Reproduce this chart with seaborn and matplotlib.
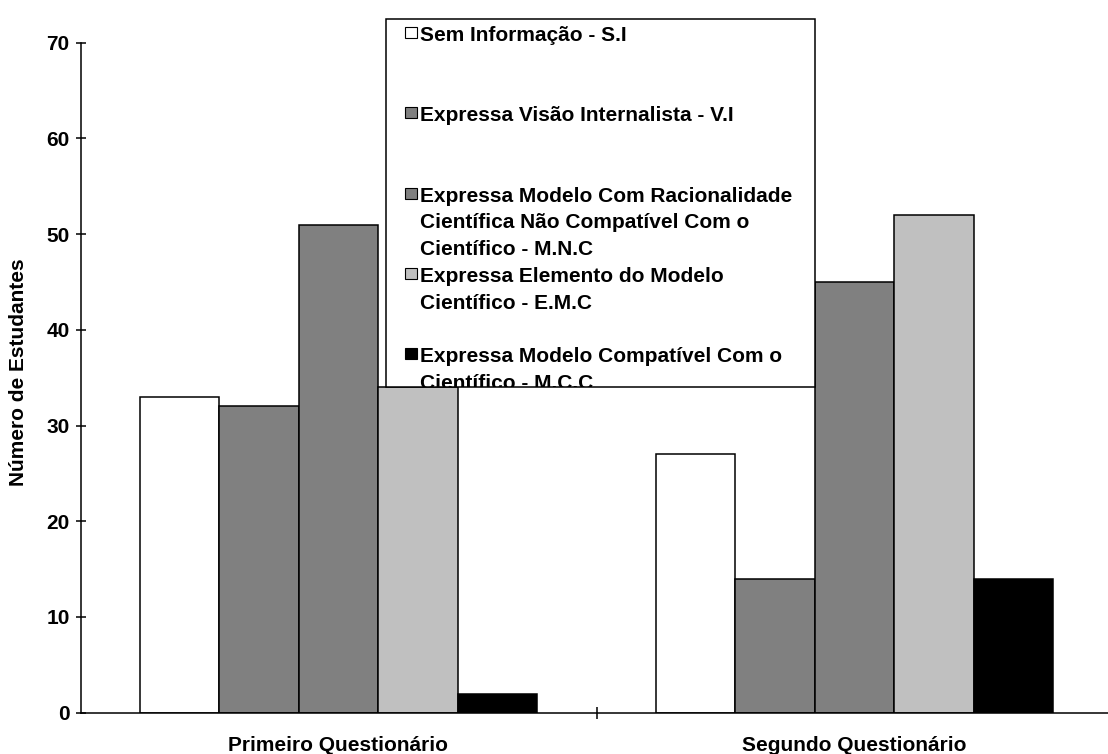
import matplotlib
matplotlib.use("Agg")
import matplotlib.pyplot as plt
from matplotlib.patches import Rectangle
import seaborn as sns
import pandas as pd

# ---- data ----
questionnaires = ["Primeiro Questionário", "Segundo Questionário"]
series_names = [
    "Sem Informação - S.I",
    "Expressa Visão Internalista - V.I",
    "Expressa Modelo Com Racionalidade Científica Não Compatível Com o Científico - M.N.C",
    "Expressa Elemento do Modelo Científico - E.M.C",
    "Expressa Modelo Compatível Com o Científico - M.C.C",
]
legend_lines = [
    ["Sem Informação - S.I"],
    ["Expressa Visão Internalista - V.I"],
    ["Expressa Modelo Com Racionalidade", "Científica Não Compatível Com o", "Científico - M.N.C"],
    ["Expressa Elemento do Modelo", "Científico - E.M.C"],
    ["Expressa Modelo Compatível Com o", "Científico - M.C.C"],
]
values_si = [33, 27]
values_vi = [32, 14]
values_mnc = [51, 45]
values_emc = [34, 52]
values_mcc = [2, 14]
series_colors = ["#FFFFFF", "#808080", "#808080", "#C0C0C0", "#000000"]
y_ticks = [0, 10, 20, 30, 40, 50, 60, 70]
y_label = "Número de Estudantes"

all_values = [values_si, values_vi, values_mnc, values_emc, values_mcc]
rows = []
for name, vals in zip(series_names, all_values):
    for q, v in zip(questionnaires, vals):
        rows.append({"Questionário": q, "Categoria": name, "Estudantes": v})
df = pd.DataFrame(rows)

# ---- style ----
sns.set_style("ticks")
plt.rcParams["font.family"] = ["Liberation Sans", "DejaVu Sans"]
plt.rcParams["font.weight"] = "bold"
for k in ["text.color", "axes.labelcolor", "xtick.color", "ytick.color", "axes.edgecolor"]:
    plt.rcParams[k] = "black"

W, H = 1108, 754
fig = plt.figure(figsize=(W / 100, H / 100), dpi=100)
ax = fig.add_axes([80.5 / W, 41.3 / H, 1032 / W, 670 / H])

sns.barplot(
    data=df, x="Questionário", y="Estudantes", hue="Categoria",
    order=questionnaires, hue_order=series_names,
    palette=series_colors, saturation=1, width=0.77, gap=0,
    edgecolor="black", linewidth=1.1, legend=False, ax=ax,
)

ax.set_xlim(-0.5, 1.5)
ax.set_ylim(0, 70)
ax.set_yticks(y_ticks)
ax.set_yticklabels([str(t) for t in y_ticks], fontsize=15, fontweight="bold", color="black")
ax.set_xticks([0, 1])
ax.set_xticklabels(questionnaires, fontsize=15, fontweight="bold", color="black")
ax.set_xticks([0.5], minor=True)
ax.tick_params(axis="x", which="major", bottom=True, length=0, pad=17)
ax.tick_params(axis="x", which="minor", bottom=True, length=9, width=1.1,
               direction="inout", color="black")
ax.tick_params(axis="y", which="major", left=True, length=7.5, width=1.1,
               direction="inout", color="black", pad=4)
ax.set_xlabel("")
ax.set_ylabel(y_label, fontsize=15, fontweight="bold", color="black")
ax.yaxis.set_label_coords((28 - 80.5) / 1032, 0.5085)
for s in ["top", "right"]:
    ax.spines[s].set_visible(False)
for s in ["left", "bottom"]:
    ax.spines[s].set_color("black")
    ax.spines[s].set_linewidth(1.1)
    ax.spines[s].set_clip_on(False)


# ---- legend box (fixed size, clips its last line like the original) ----
def fpos(x, y):
    return (x / W, 1 - y / H)


lx0, ly0, lx1, ly1 = 386, 19, 815, 387
box = Rectangle(fpos(lx0, ly1), (lx1 - lx0) / W, (ly1 - ly0) / H,
                transform=fig.transFigure, facecolor="white",
                edgecolor="black", linewidth=1.1, zorder=10)
fig.add_artist(box)
clip_rect = Rectangle(fpos(lx0, ly1), (lx1 - lx0) / W, (ly1 - ly0) / H,
                      transform=fig.transFigure, facecolor="none", edgecolor="none")
fig.add_artist(clip_rect)

first_base = 41
entry_step = 80.3
line_step = 26.7
for i, (lines, col) in enumerate(zip(legend_lines, series_colors)):
    base = first_base + i * entry_step
    sq = Rectangle(fpos(405, base - 3), 12 / W, 11 / H, transform=fig.transFigure,
                   facecolor=col, edgecolor="black", linewidth=0.8, zorder=11)
    fig.add_artist(sq)
    for j, line in enumerate(lines):
        t = fig.text(*fpos(420, base + j * line_step), line, fontsize=15,
                     fontweight="bold", ha="left", va="baseline", zorder=11,
                     color="black")
        t.set_clip_path(clip_rect)

fig.savefig("out.png", dpi=100)
